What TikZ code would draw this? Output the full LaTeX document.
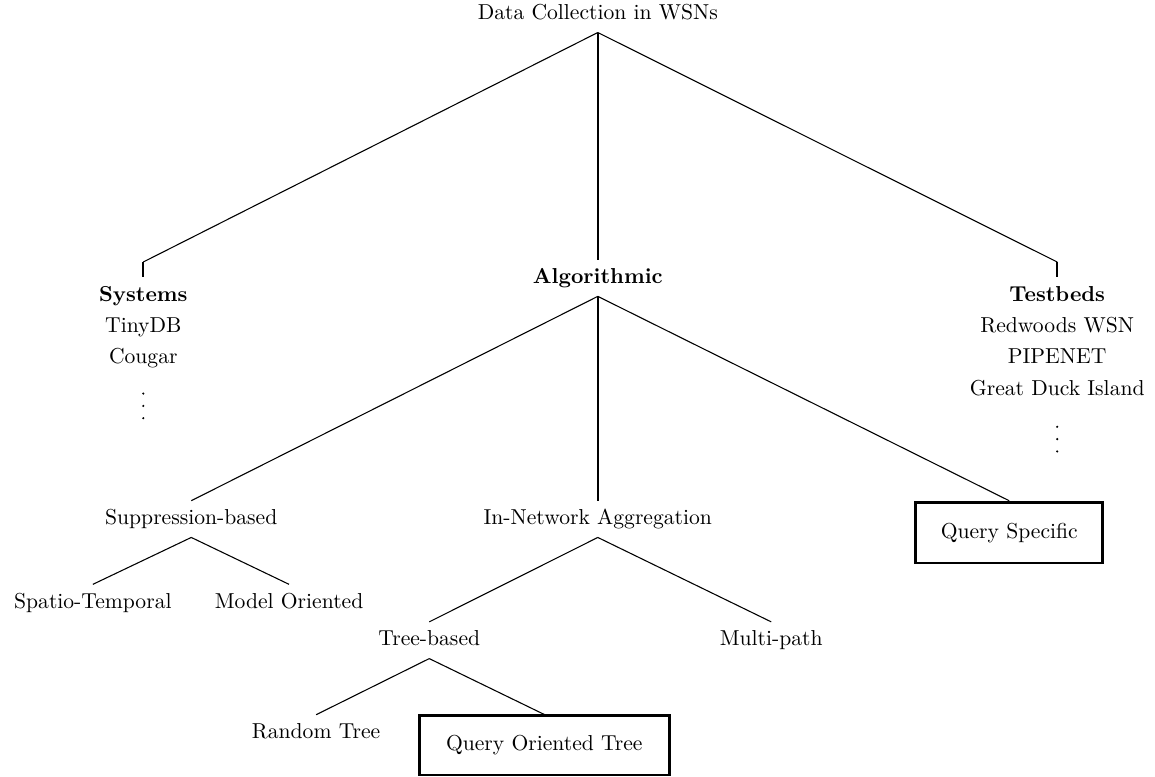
\documentclass[tikz,border=0pt]{standalone}
\begin{document}
\begin{tikzpicture}[
    lbl/.style={inner sep=0pt, outer sep=4pt, text height=7pt, text depth=2pt},
    head/.style={lbl, font=\bfseries},
    leaf/.style={draw, line width=1.3pt, inner sep=0pt, text height=7pt, text depth=2pt},
    edge/.style={line width=0.5pt},
    stem/.style={line width=1.1pt}]
    \useasboundingbox (0, 0) rectangle (18.78, -12.62);
    % top level
    \node[lbl] (root) at (9.72, -0.23) {Data Collection in WSNs};
    \node[head] (sys) at (2.33, -4.81) {Systems};
    \node[head] (alg) at (9.72, -4.52) {Algorithmic};
    \node[head] (tb) at (17.19, -4.81) {Testbeds};
    \coordinate (sysT) at (2.33, -4.26);
    \coordinate (tbT) at (17.19, -4.26);
    \draw[edge] (root.south) -- (sysT);
    \draw[stem] (sysT) -- (sys.north);
    \draw[stem] (root.south) -- (alg.north);
    \draw[edge] (root.south) -- (tbT);
    \draw[stem] (tbT) -- (tb.north);
    % lists
    \node[lbl] (tinydb) at (2.33, -5.32) {TinyDB};
    \node[lbl] (cougar) at (2.33, -5.82) {Cougar};
    \coordinate (sysdots) at (2.33, -6.60);
    \node[lbl] (redwoods) at (17.19, -5.32) {Redwoods WSN};
    \node[lbl] (pipenet) at (17.19, -5.82) {PIPENET};
    \node[lbl] (gdi) at (17.19, -6.34) {Great Duck Island};
    \coordinate (tbdots) at (17.19, -7.14);
    \foreach \d in {-0.2, 0, 0.2} {
        \fill ([yshift=\d cm]sysdots) circle (0.55pt);
        \fill ([yshift=\d cm]tbdots) circle (0.55pt);
    }
    % algorithmic
    \node[lbl] (sup) at (3.11, -8.44) {Suppression-based};
    \node[lbl] (inn) at (9.72, -8.44) {In-Network Aggregation};
    \node[leaf, minimum width=3.04cm, minimum height=0.99cm] (qs) at (16.41, -8.66) {Query Specific};
    \draw[edge] (alg.south) -- (sup.north);
    \draw[stem] (alg.south) -- (inn.north);
    \draw[edge] (alg.south) -- (qs.north);
    % suppression
    \node[lbl] (spt) at (1.51, -9.80) {Spatio-Temporal};
    \node[lbl] (model) at (4.70, -9.80) {Model Oriented};
    \draw[edge] (sup.south) -- (spt.north);
    \draw[edge] (sup.south) -- (model.north);
    % aggregation
    \node[lbl] (tree) at (6.98, -10.41) {Tree-based};
    \node[lbl] (mpath) at (12.54, -10.41) {Multi-path};
    \draw[edge] (inn.south) -- (tree.north);
    \draw[edge] (inn.south) -- (mpath.north);
    \node[lbl] (rnd) at (5.14, -11.92) {Random Tree};
    \node[leaf, minimum width=4.07cm, minimum height=0.96cm] (qot) at (8.85, -12.12) {Query Oriented Tree};
    \draw[edge] (tree.south) -- (rnd.north);
    \draw[edge] (tree.south) -- (qot.north);
\end{tikzpicture}
\end{document}
